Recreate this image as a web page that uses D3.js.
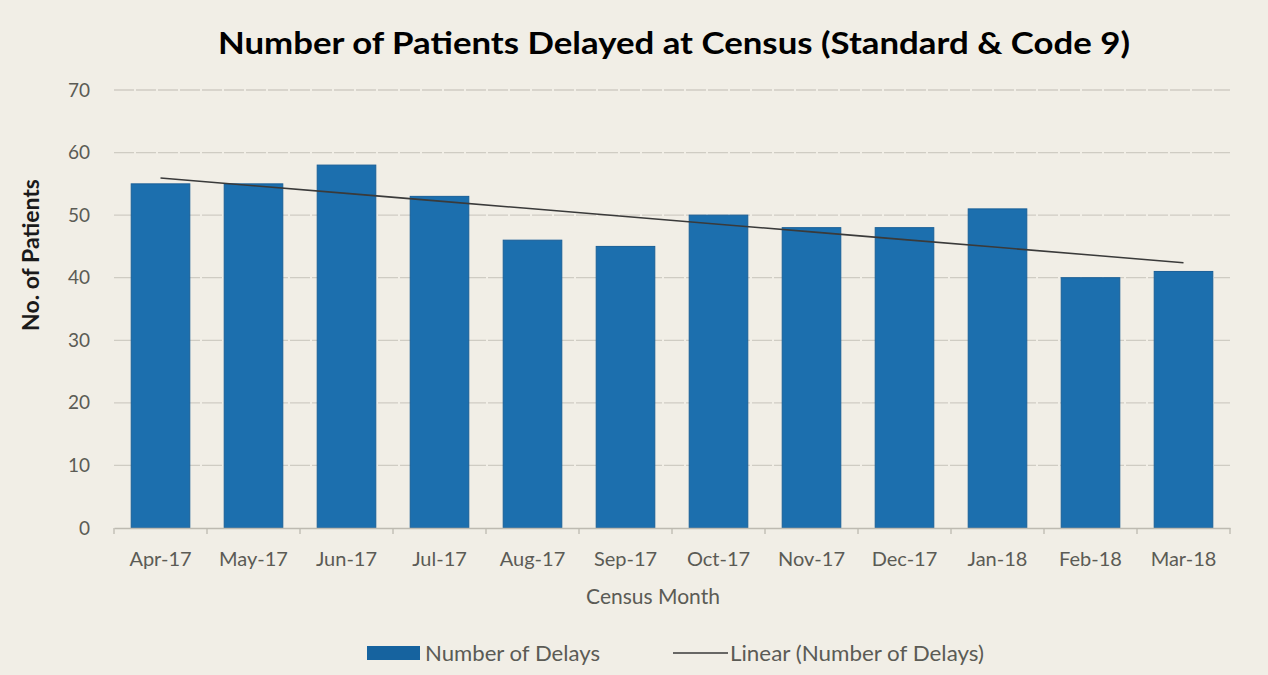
<!DOCTYPE html>
<html>
<head>
<meta charset="utf-8">
<script src="https://cdn.jsdelivr.net/npm/d3@7"></script>
<style>
  body { margin: 0; background: #f1eee6; }
  svg { display: block; }
  .tick text { font-family: Lato, "Open Sans", sans-serif; fill: #5b5b55; }
</style>
</head>
<body>
<div id="chart"></div>
<script>
// data
const months = ["Apr-17","May-17","Jun-17","Jul-17","Aug-17","Sep-17","Oct-17","Nov-17","Dec-17","Jan-18","Feb-18","Mar-18"];
const delays = [55, 55, 58, 53, 46, 45, 50, 48, 48, 51, 40, 41];
const yTicks = [0, 10, 20, 30, 40, 50, 60, 70];

const width = 1268, height = 675;
const margin = {top: 90, right: 38, bottom: 147, left: 114};

const svg = d3.select("#chart").append("svg")
  .attr("width", width)
  .attr("height", height);

svg.append("rect").attr("width", width).attr("height", height).attr("fill", "#f1eee6");

const x = d3.scaleBand()
  .domain(months)
  .range([margin.left, width - margin.right])
  .paddingInner(0.37)
  .paddingOuter(0.185);

const y = d3.scaleLinear()
  .domain([0, 70])
  .range([height - margin.bottom, margin.top]);

// gridlines
svg.append("g")
  .selectAll("line")
  .data(yTicks.filter(d => d > 0))
  .enter()
  .append("line")
  .attr("x1", margin.left)
  .attr("x2", width - margin.right)
  .attr("y1", d => y(d))
  .attr("y2", d => y(d))
  .attr("stroke", "#cfccc3")
  .attr("stroke-width", 1.3)
  .attr("stroke-dasharray", "20,2");

// y axis labels only
const yAxis = svg.append("g")
  .attr("transform", `translate(${margin.left},0)`)
  .call(d3.axisLeft(y).tickValues(yTicks).tickSize(0).tickPadding(24));
yAxis.select(".domain").remove();
yAxis.selectAll("text").style("font-size", "19px");

// bars
svg.append("g")
  .selectAll("rect")
  .data(delays)
  .enter()
  .append("rect")
  .attr("x", (d, i) => x(months[i]))
  .attr("y", d => y(d))
  .attr("width", x.bandwidth())
  .attr("height", d => y(0) - y(d))
  .attr("fill", "#1c6fae")
  .attr("stroke", "#195f98")
  .attr("stroke-width", 1);

// x axis
const step = x.step();
const xAxis = svg.append("g")
  .attr("transform", `translate(0,${y(0)})`)
  .call(d3.axisBottom(x).tickSize(0).tickPadding(24));
xAxis.select(".domain").attr("stroke", "#bdbab1").attr("stroke-width", 1.3);
xAxis.selectAll("text").style("font-size", "20px");
// small ticks between categories
xAxis.append("g")
  .selectAll("line")
  .data(d3.range(months.length + 1))
  .enter()
  .append("line")
  .attr("x1", i => margin.left + i * step)
  .attr("x2", i => margin.left + i * step)
  .attr("y1", 0)
  .attr("y2", 6)
  .attr("stroke", "#bdbab1")
  .attr("stroke-width", 1.3);

// linear trend (least squares over the bar values)
const n = delays.length;
const xs = d3.range(1, n + 1);
const mx = d3.mean(xs), my = d3.mean(delays);
const slope = d3.sum(xs, (v, i) => (v - mx) * (delays[i] - my)) / d3.sum(xs, v => (v - mx) * (v - mx));
const trend = xs.map(v => my + slope * (v - mx));

svg.append("path")
  .datum(trend)
  .attr("fill", "none")
  .attr("stroke", "#3a3a3a")
  .attr("stroke-width", 1.6)
  .attr("d", d3.line()
    .x((d, i) => x(months[i]) + x.bandwidth() / 2)
    .y(d => y(d)));

// title
svg.append("text")
  .attr("x", 674)
  .attr("y", 54)
  .attr("text-anchor", "middle")
  .attr("textLength", 912)
  .attr("lengthAdjust", "spacingAndGlyphs")
  .style("font-family", "Lato, 'Open Sans', sans-serif")
  .style("font-weight", "bold")
  .style("font-size", "31px")
  .style("fill", "#000")
  .text("Number of Patients Delayed at Census (Standard & Code 9)");

// axis titles
svg.append("text")
  .attr("transform", "translate(39,255) rotate(-90)")
  .attr("text-anchor", "middle")
  .style("font-family", "Lato, 'Open Sans', sans-serif")
  .style("font-weight", "bold")
  .style("font-size", "23px")
  .style("fill", "#1a1a1a")
  .text("No. of Patients");

svg.append("text")
  .attr("x", 653)
  .attr("y", 604)
  .attr("text-anchor", "middle")
  .style("font-family", "Lato, 'Open Sans', sans-serif")
  .style("font-size", "21px")
  .style("fill", "#5b5b55")
  .text("Census Month");

// legend
const legend = svg.append("g").attr("transform", "translate(0,653)");
legend.append("rect")
  .attr("x", 367).attr("y", -7)
  .attr("width", 53).attr("height", 14)
  .attr("fill", "#16639f");
legend.append("text")
  .attr("x", 425).attr("y", 8)
  .attr("textLength", 175)
  .attr("lengthAdjust", "spacingAndGlyphs")
  .style("font-family", "Lato, 'Open Sans', sans-serif")
  .style("font-size", "21px")
  .style("fill", "#5b5b55")
  .text("Number of Delays");
legend.append("line")
  .attr("x1", 673).attr("x2", 728)
  .attr("y1", 0).attr("y2", 0)
  .attr("stroke", "#3a3a3a")
  .attr("stroke-width", 1.6);
legend.append("text")
  .attr("x", 730).attr("y", 8)
  .attr("textLength", 254)
  .attr("lengthAdjust", "spacingAndGlyphs")
  .style("font-family", "Lato, 'Open Sans', sans-serif")
  .style("font-size", "21px")
  .style("fill", "#5b5b55")
  .text("Linear (Number of Delays)");
</script>
</body>
</html>
